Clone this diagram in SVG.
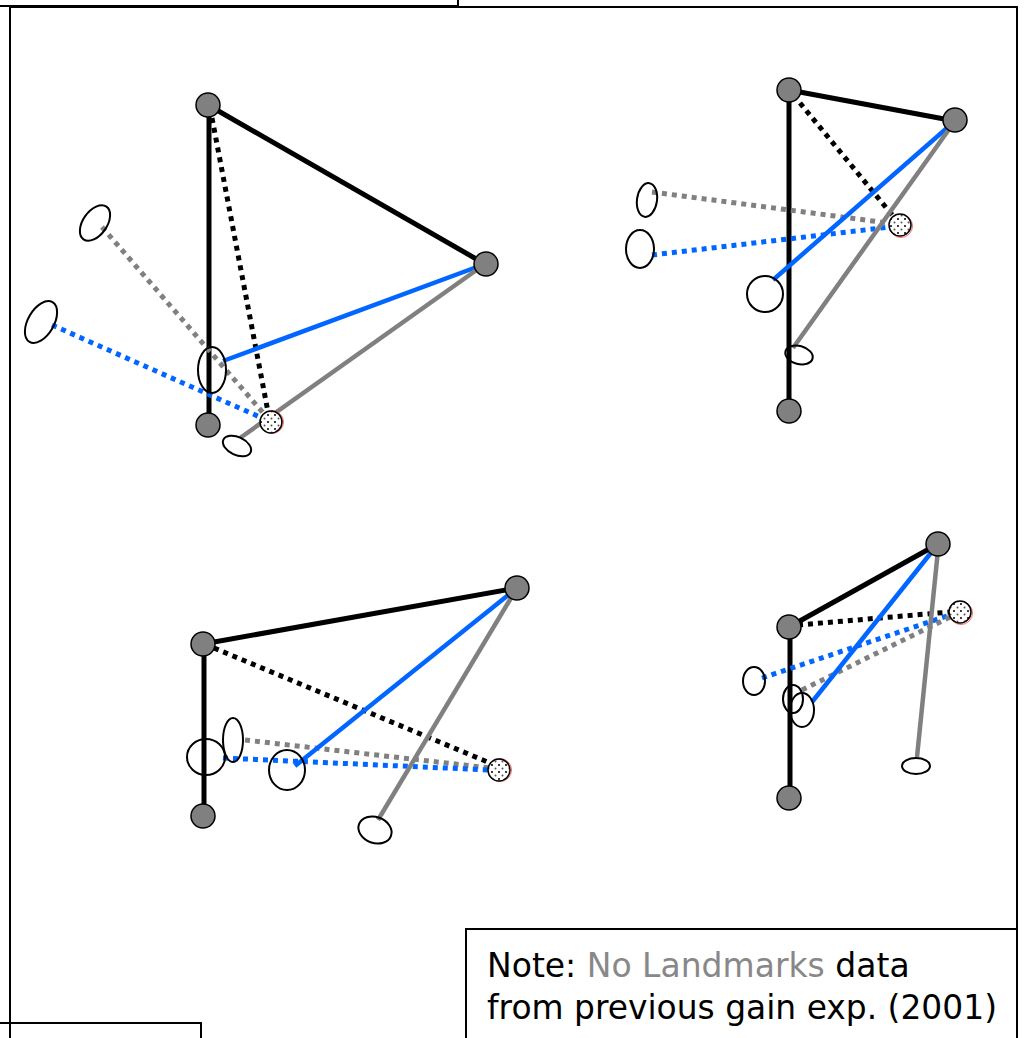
<svg xmlns="http://www.w3.org/2000/svg" width="1024" height="1038" viewBox="0 0 1024 1038">
<defs>
<pattern id="dots" width="7" height="7" patternUnits="userSpaceOnUse">
<rect width="7" height="7" fill="#fff"/>
<circle cx="2" cy="2" r="1" fill="#000"/>
<circle cx="5.5" cy="5.5" r="1" fill="#555"/>
</pattern>
</defs>
<style>
.frame{fill:none;stroke:#000;stroke-width:2}
.k{stroke:#000;stroke-width:5;fill:none}
.kd{stroke:#000;stroke-width:5;stroke-dasharray:5 5;fill:none}
.b{stroke:#0066ff;stroke-width:4.5;fill:none}
.bd{stroke:#0066ff;stroke-width:5;stroke-dasharray:5 5;fill:none}
.g{stroke:#808080;stroke-width:4.5;fill:none}
.gd{stroke:#808080;stroke-width:5;stroke-dasharray:5 5;fill:none}
.node{fill:#808080;stroke:#000;stroke-width:1.5}
.tgt{fill:url(#dots);stroke:#000;stroke-width:1.5}
.tgtr{fill:none;stroke:#f66;stroke-width:1}
.ell{fill:none;stroke:#000;stroke-width:2}
.txt{font-family:"DejaVu Sans",sans-serif;font-size:33px;fill:#000}
</style>
<rect width="1024" height="1038" fill="#fff"/>
<!-- frames -->
<rect class="frame" x="-2" y="-2" width="460" height="8"/>
<rect class="frame" x="10" y="7" width="1007" height="1040"/>
<rect class="frame" x="-2" y="1023" width="203" height="20"/>
<rect x="466" y="929" width="551" height="120" fill="#fff" stroke="#000" stroke-width="2"/>

<g id="connectors">
<!-- panel 1 -->
<line class="k" x1="208" y1="105" x2="485" y2="264"/>
<line class="k" x1="209" y1="105" x2="209" y2="425"/>
<line class="kd" x1="212" y1="118" x2="268" y2="412"/>
<line class="gd" x1="102" y1="227" x2="265" y2="415"/>
<line class="bd" x1="52" y1="325" x2="262" y2="418"/>
<line class="b" x1="485" y1="264" x2="223" y2="361"/>
<line class="g" x1="485" y1="264" x2="240" y2="438"/>
<!-- panel 2 -->
<line class="k" x1="789" y1="90" x2="955" y2="121"/>
<line class="k" x1="789" y1="90" x2="789" y2="410"/>
<line class="kd" x1="800" y1="103" x2="893" y2="216"/>
<line class="gd" x1="652" y1="192" x2="888" y2="223"/>
<line class="bd" x1="652" y1="255" x2="890" y2="227"/>
<line class="b" x1="955" y1="121" x2="773" y2="280"/>
<line class="g" x1="955" y1="121" x2="793" y2="348"/>
<!-- panel 3 -->
<line class="k" x1="203" y1="644" x2="517" y2="588"/>
<line class="k" x1="204" y1="644" x2="204" y2="816"/>
<line class="kd" x1="214" y1="648" x2="490" y2="763"/>
<line class="gd" x1="245" y1="740" x2="490" y2="768"/>
<line class="bd" x1="223" y1="758" x2="490" y2="770"/>
<line class="b" x1="517" y1="588" x2="295" y2="766"/>
<line class="g" x1="517" y1="588" x2="378" y2="820"/>
<!-- panel 4 -->
<line class="k" x1="789" y1="627" x2="938" y2="544"/>
<line class="k" x1="790" y1="627" x2="790" y2="798"/>
<line class="kd" x1="798" y1="625" x2="950" y2="612"/>
<line class="bd" x1="762" y1="678" x2="950" y2="615"/>
<line class="gd" x1="802" y1="690" x2="950" y2="617"/>
<line class="b" x1="938" y1="544" x2="812" y2="702"/>
<line class="g" x1="938" y1="550" x2="917" y2="757"/>
</g>

<!-- panel 1 nodes -->
<g id="p1-ell1"><ellipse class="ell" cx="95" cy="223" rx="20" ry="12" transform="rotate(-55 95 223)"/></g>
<g id="p1-ell2"><ellipse class="ell" cx="41" cy="322" rx="23" ry="13" transform="rotate(-60 41 322)"/></g>
<g id="p1-ell3"><ellipse class="ell" cx="212" cy="370" rx="14" ry="23"/></g>
<g id="p1-ell4"><ellipse class="ell" cx="237" cy="446" rx="15" ry="9" transform="rotate(25 237 446)"/></g>
<g id="p1-A"><circle class="node" cx="208" cy="105" r="12"/></g>
<g id="p1-B"><circle class="node" cx="486" cy="264" r="12"/></g>
<g id="p1-C"><circle class="node" cx="208" cy="425" r="12"/></g>
<g id="p1-T"><circle class="tgtr" cx="272" cy="422" r="11.5"/><circle class="tgt" cx="271" cy="422" r="11"/></g>

<!-- panel 2 nodes -->
<g id="p2-ell1"><ellipse class="ell" cx="647" cy="200" rx="10" ry="17" transform="rotate(8 647 200)"/></g>
<g id="p2-ell2"><ellipse class="ell" cx="640" cy="249" rx="14" ry="19"/></g>
<g id="p2-ell3"><ellipse class="ell" cx="765" cy="294" rx="18" ry="18"/></g>
<g id="p2-ell4"><ellipse class="ell" cx="799" cy="355" rx="14" ry="9" transform="rotate(15 799 355)"/></g>
<g id="p2-A"><circle class="node" cx="789" cy="90" r="12"/></g>
<g id="p2-B"><circle class="node" cx="955" cy="120" r="12"/></g>
<g id="p2-C"><circle class="node" cx="789" cy="411" r="12"/></g>
<g id="p2-T"><circle class="tgtr" cx="901" cy="226" r="11.5"/><circle class="tgt" cx="900" cy="225" r="11"/></g>

<!-- panel 3 nodes -->
<g id="p3-ell1"><ellipse class="ell" cx="206" cy="757" rx="19" ry="18"/></g>
<g id="p3-ell2"><ellipse class="ell" cx="233" cy="740" rx="10" ry="22"/></g>
<g id="p3-ell3"><ellipse class="ell" cx="287" cy="770" rx="18" ry="20"/></g>
<g id="p3-ell4"><ellipse class="ell" cx="375" cy="830" rx="17" ry="13" transform="rotate(20 375 830)"/></g>
<g id="p3-A"><circle class="node" cx="203" cy="644" r="12"/></g>
<g id="p3-B"><circle class="node" cx="517" cy="588" r="12"/></g>
<g id="p3-C"><circle class="node" cx="203" cy="816" r="12"/></g>
<g id="p3-T"><circle class="tgtr" cx="500" cy="770" r="11.5"/><circle class="tgt" cx="499" cy="770" r="11"/></g>

<!-- panel 4 nodes -->
<g id="p4-ell1"><ellipse class="ell" cx="754" cy="681" rx="11" ry="14"/></g>
<g id="p4-ell2"><ellipse class="ell" cx="793" cy="699" rx="10" ry="14"/></g>
<g id="p4-ell3"><ellipse class="ell" cx="802" cy="710" rx="12" ry="17"/></g>
<g id="p4-ell4"><ellipse class="ell" cx="916" cy="766" rx="14" ry="8"/></g>
<g id="p4-A"><circle class="node" cx="789" cy="627" r="12"/></g>
<g id="p4-B"><circle class="node" cx="938" cy="544" r="12"/></g>
<g id="p4-C"><circle class="node" cx="789" cy="798" r="12"/></g>
<g id="p4-T"><circle class="tgtr" cx="961" cy="613" r="11.5"/><circle class="tgt" cx="960" cy="612" r="11"/></g>

<g id="note">
<text class="txt" x="487" y="977">Note: <tspan fill="#888">No Landmarks</tspan> data</text>
<text class="txt" x="487" y="1019" textLength="510" lengthAdjust="spacingAndGlyphs">from previous gain exp. (2001)</text>
</g>
</svg>
